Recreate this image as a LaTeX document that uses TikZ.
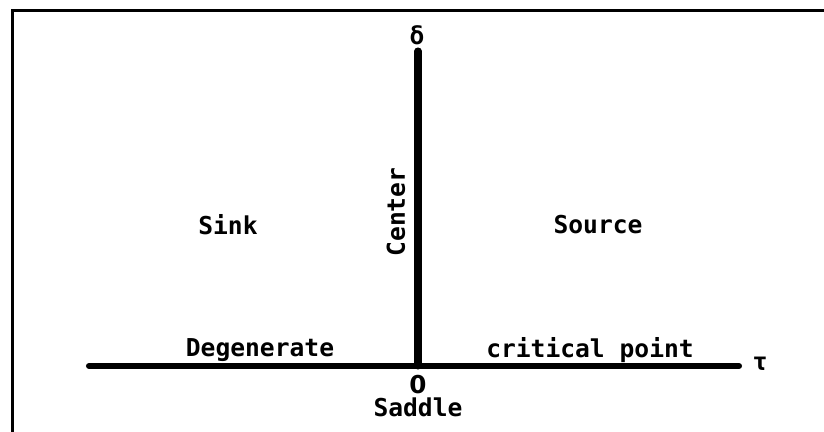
\documentclass[tikz,border=0pt]{standalone}
\usepackage{fontspec}
\setmonofont{DejaVu Sans Mono}
\setsansfont{DejaVu Sans}
\usepackage{tikz}
\usetikzlibrary{positioning}

\begin{document}
\begin{tikzpicture}[x=0.025cm,y=-0.025cm,
  lbl/.style={font=\ttfamily\bfseries\fontsize{17.5}{20}\selectfont,inner sep=0pt},
  axisline/.style={line width=4.3pt,line cap=round}]
\useasboundingbox (0,0) rectangle (824,432);
% frame (top and left edges only)
\draw[line width=2.2pt] (12.5,432) -- (12.5,10.5) -- (824,10.5);
% axes
\coordinate (origin) at (418,366);
\coordinate (deltatop) at (418,51);
\coordinate (tauleft) at (89,366);
\coordinate (tauright) at (739,366);
\draw[axisline,line width=5pt] (origin) -- (deltatop);
\draw[axisline] (tauleft) -- (tauright);
\node[lbl] (delta) at (417,35) {δ};
\node[lbl] (tau) at (760,364) {τ};
\node[lbl,font=\sffamily\bfseries\fontsize{17.5}{20}\selectfont] (zero) at (418,385) {0};
\node[lbl] (saddle) at (418,407) {Saddle};
\node[lbl] (degen) at (260,350) {Degenerate};
\node[lbl] (crit) at (590,350) {critical point};
\node[lbl] (sink) at (228,225) {Sink};
\node[lbl] (source) at (598,225) {Source};
\node[lbl,rotate=90] (center) at (396,212) {Center};
\end{tikzpicture}
\end{document}
